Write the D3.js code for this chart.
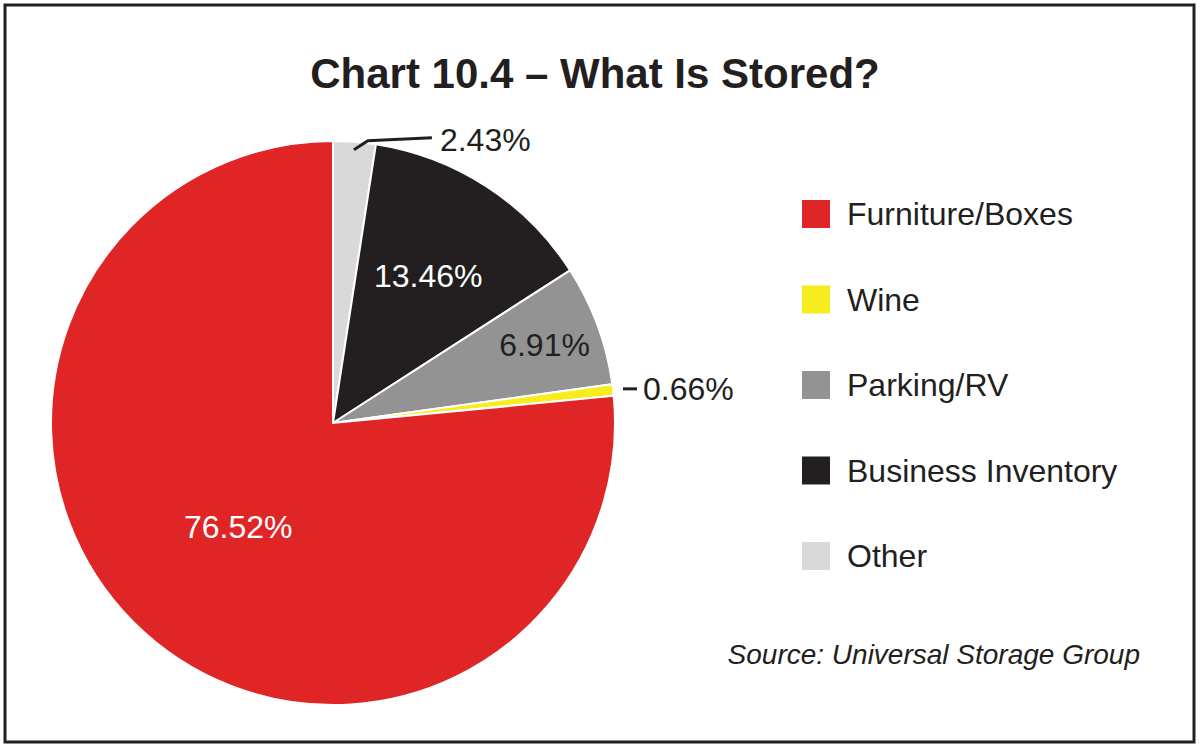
<!DOCTYPE html>
<html><head><meta charset="utf-8">
<script src="https://cdn.jsdelivr.net/npm/d3@7"></script>
<style>body{margin:0;background:#fff}</style>
</head><body>
<script>
const categories = ["Other","Business Inventory","Parking/RV","Wine","Furniture/Boxes"];
const values = [2.43,13.46,6.91,0.66,76.52];
const colors = ["#d9d9d9","#231f20","#939393","#f7ec1c","#e02526"];
const legendOrder = ["Furniture/Boxes","Wine","Parking/RV","Business Inventory","Other"];

const font = "'Liberation Sans Narrow','Arial Narrow',sans-serif";
const svg = d3.select("body").append("svg").attr("width",1200).attr("height",748);

svg.append("rect").attr("x",5).attr("y",5).attr("width",1189).attr("height",737)
  .attr("fill","#fff").attr("stroke","#231f20").attr("stroke-width",3);

svg.append("text").attr("x",595).attr("y",88).attr("text-anchor","middle")
  .attr("font-family",font).attr("font-weight","bold").attr("font-size",42)
  .attr("fill","#231f20").text("Chart 10.4 \u2013 What Is Stored?");

const cx = 333, cy = 423, r = 282;
const color = d3.scaleOrdinal().domain(categories).range(colors);
const pie = d3.pie().sort(null).value(d => d.v);
const arcs = pie(categories.map((c,i)=>({c, v: values[i]})));
const arc = d3.arc().innerRadius(0).outerRadius(r);
const g = svg.append("g").attr("transform",`translate(${cx},${cy})`);
g.selectAll("path").data(arcs).join("path")
  .attr("d",arc).attr("fill",d=>color(d.data.c))
  .attr("stroke","#fff").attr("stroke-width",2);

// inside labels at chosen radial fractions
const inside = {"Business Inventory":[0.62,"#fff"],"Parking/RV":[0.8,"#231f20"],"Furniture/Boxes":[0.5,"#fff"]};
arcs.forEach(d=>{
  const a = (d.startAngle+d.endAngle)/2;
  if (inside[d.data.c]) {
    const [f,col] = inside[d.data.c];
    g.append("text").attr("x",Math.sin(a)*r*f).attr("y",-Math.cos(a)*r*f+11)
      .attr("text-anchor","middle").attr("font-family",font).attr("font-size",32)
      .attr("fill",col).text(d.data.v.toFixed(2)+"%");
  } else if (d.data.c==="Other") {
    const x0 = Math.sin(a)*(r-8), y0 = -Math.cos(a)*(r-8);
    g.append("path").attr("d",`M${x0},${y0}L${x0+14},${y0-9}L${x0+78},${y0-12}`)
      .attr("fill","none").attr("stroke","#231f20").attr("stroke-width",3);
    g.append("text").attr("x",x0+86).attr("y",y0+1).attr("font-family",font)
      .attr("font-size",32).attr("fill","#231f20").text(d.data.v.toFixed(2)+"%");
  } else {
    const x0 = Math.sin(a)*(r+10), y0 = -Math.cos(a)*(r+10);
    g.append("line").attr("x1",x0).attr("y1",y0).attr("x2",x0+14).attr("y2",y0)
      .attr("stroke","#231f20").attr("stroke-width",3);
    g.append("text").attr("x",x0+20).attr("y",y0+11).attr("font-family",font)
      .attr("font-size",32).attr("fill","#231f20").text(d.data.v.toFixed(2)+"%");
  }
});

const ly = d3.scalePoint().domain(legendOrder).range([214,556]);
const lg = svg.append("g").selectAll("g").data(legendOrder).join("g")
  .attr("transform",d=>`translate(802,${ly(d)})`);
lg.append("rect").attr("y",-14).attr("width",28).attr("height",28).attr("fill",d=>color(d));
lg.append("text").attr("x",45).attr("y",11).attr("font-family",font).attr("font-size",32)
  .attr("fill","#231f20").text(d=>d);

svg.append("text").attr("x",1140).attr("y",664).attr("text-anchor","end")
  .attr("font-family",font).attr("font-style","italic").attr("font-size",28)
  .attr("fill","#231f20").text("Source: Universal Storage Group");
</script>
</body></html>
